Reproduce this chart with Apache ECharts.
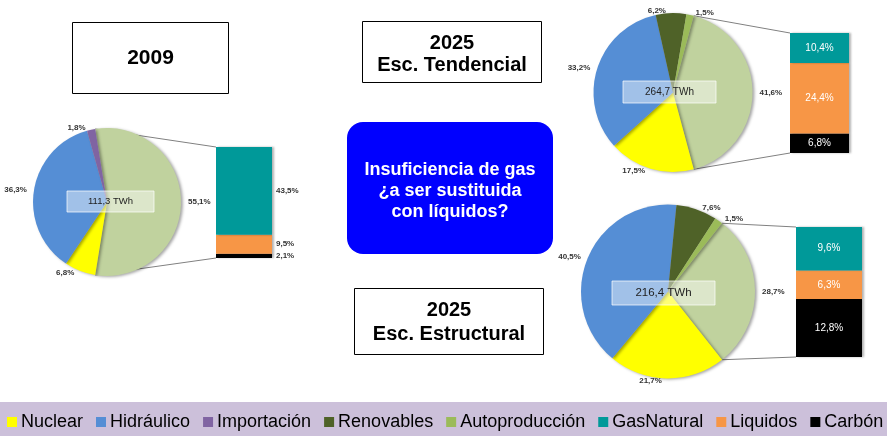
<!DOCTYPE html>
<html>
<head>
<meta charset="utf-8">
<script src="https://cdn.jsdelivr.net/npm/echarts@6/dist/echarts.min.js"></script>
<style>
  html, body { margin: 0; padding: 0; background: #fff; }
  #chart { width: 887px; height: 436px; }
</style>
</head>
<body>
<div id="chart"></div>
<script>
// Legend categories (order of the legend strip)
const categories = ['Nuclear', 'Hidráulico', 'Importación', 'Renovables', 'Autoproducción', 'GasNatural', 'Liquidos', 'Carbón'];
const thermalName = 'Térmica';

// One entry per scenario
const scenarios = ['2009', '2025 Esc. Tendencial', '2025 Esc. Estructural'];
const totalsTWh = [111.3, 264.7, 216.4];

// Pie shares (%) per scenario
const nuclear        = [6.8, 17.5, 21.7];
const hidraulico     = [36.3, 33.2, 40.5];
const importacion    = [1.8, 0, 0];
const renovables     = [0, 6.2, 7.6];
const autoproduccion = [0, 1.5, 1.5];

// Breakdown of the thermal slice (%), shown as the stacked column
const gasNatural = [43.5, 10.4, 9.6];
const liquidos   = [9.5, 24.4, 6.3];
const carbon     = [2.1, 6.8, 12.8];

const colors = {
  'Nuclear': '#FFFF00',
  'Hidráulico': '#558ED5',
  'Importación': '#8064A2',
  'Renovables': '#4F6228',
  'Autoproducción': '#9BBB59',
  'GasNatural': '#009999',
  'Liquidos': '#F79646',
  'Carbón': '#000000',
  'Térmica': '#C0D29E'
};

// Layout of each pie-of-column block
const blocks = [
  { center: [107, 202], r: 74, bar: { left: 216, top: 147, width: 56, height: 111 }, inside: false, box: { x: 67, y: 191, w: 87, h: 21, fs: 9.5 } },
  { center: [673, 92.5], r: 79.5, bar: { left: 790, top: 33, width: 59, height: 120 }, inside: true, box: { x: 623, y: 81, w: 93, h: 22, fs: 10 } },
  { center: [668, 291.5], r: 87, bar: { left: 796, top: 227, width: 66, height: 130 }, inside: true, box: { x: 612, y: 281, w: 103, h: 24, fs: 11.5 } }
];

const fmt = v => v.toFixed(1).replace('.', ',');

const grids = [], xAxes = [], yAxes = [], series = [], graphics = [];

// Legend strip background
graphics.push({ type: 'rect', shape: { x: 0, y: 402, width: 887, height: 34 }, style: { fill: '#CCC0DA' }, z: -10 });

blocks.forEach((b, i) => {
  const stack = [
    ['Carbón', carbon[i]],
    ['Liquidos', liquidos[i]],
    ['GasNatural', gasNatural[i]]
  ];
  const thermal = +(carbon[i] + liquidos[i] + gasNatural[i]).toFixed(1);
  const span = thermal * 3.6;

  const pieData = [
    [thermalName, thermal],
    ['Nuclear', nuclear[i]],
    ['Hidráulico', hidraulico[i]],
    ['Importación', importacion[i]],
    ['Renovables', renovables[i]],
    ['Autoproducción', autoproduccion[i]]
  ].filter(d => d[1] > 0).map(d => ({ name: d[0], value: d[1], itemStyle: { color: colors[d[0]] } }));

  series.push({
    type: 'pie',
    center: b.center,
    radius: b.r,
    startAngle: span / 2,
    clockwise: true,
    avoidLabelOverlap: true,
    data: pieData,
    itemStyle: { borderWidth: 0, shadowColor: 'rgba(0,0,0,0.35)', shadowBlur: 3, shadowOffsetX: 2, shadowOffsetY: 1 },
    label: { show: true, position: 'outside', overflow: 'none', edgeDistance: 0, formatter: p => fmt(p.value) + '%', fontSize: 8, fontWeight: 'bold', color: '#333', fontFamily: 'Liberation Sans' },
    labelLine: { show: false, length: 2, length2: 0 },
    emphasis: { disabled: true },
    z: 3
  });

  grids.push({ left: b.bar.left, top: b.bar.top, width: b.bar.width, height: b.bar.height });
  xAxes.push({ type: 'category', gridIndex: i, data: [scenarios[i]], show: false });
  yAxes.push({ type: 'value', gridIndex: i, min: 0, max: thermal, show: false });

  stack.forEach(([name, v]) => {
    series.push({
      type: 'bar',
      name: name,
      xAxisIndex: i,
      yAxisIndex: i,
      stack: 'thermal' + i,
      barWidth: '100%',
      data: [v],
      itemStyle: { color: colors[name], shadowColor: 'rgba(0,0,0,0.3)', shadowBlur: 2, shadowOffsetX: 2 },
      label: b.inside
        ? { show: true, position: 'inside', formatter: p => fmt(p.value) + '%', color: '#fff', fontSize: 10, fontFamily: 'Liberation Sans' }
        : { show: true, position: 'right', distance: 4, formatter: p => fmt(p.value) + '%', color: '#333', fontSize: 8, fontWeight: 'bold', fontFamily: 'Liberation Sans' },
      emphasis: { disabled: true }
    });
  });

  // Connector lines from the thermal slice edges to the column corners
  const edge = deg => {
    const a = deg * Math.PI / 180;
    return [b.center[0] + b.r * Math.sin(a), b.center[1] - b.r * Math.cos(a)];
  };
  const p1 = edge(90 - span / 2), p2 = edge(90 + span / 2);
  graphics.push({ type: 'line', shape: { x1: p1[0], y1: p1[1], x2: b.bar.left, y2: b.bar.top }, style: { stroke: '#808080', lineWidth: 1 }, z: 1 });
  graphics.push({ type: 'line', shape: { x1: p2[0], y1: p2[1], x2: b.bar.left, y2: b.bar.top + b.bar.height }, style: { stroke: '#808080', lineWidth: 1 }, z: 1 });

  // Total energy label over the pie
  graphics.push({ type: 'rect', shape: { x: b.box.x, y: b.box.y, width: b.box.w, height: b.box.h }, style: { fill: 'rgba(255,255,255,0.45)', stroke: 'rgba(255,255,255,0.7)', lineWidth: 1 }, z: 50 });
  graphics.push({ type: 'text', x: b.box.x + b.box.w / 2, y: b.box.y + b.box.h / 2, style: { text: fmt(totalsTWh[i]) + ' TWh', fill: '#222', font: b.box.fs + 'px "Liberation Sans"', align: 'center', verticalAlign: 'middle' }, z: 51 });
});

// Scenario title boxes
function titleBox(x, y, w, h, lines, fs, lh, dy) {
  graphics.push({ type: 'rect', shape: { x: x, y: y, width: w, height: h }, style: { fill: '#fff', stroke: '#000', lineWidth: 1 }, z: 5 });
  graphics.push({ type: 'text', x: x + w / 2, y: y + h / 2 + dy, style: { text: lines.join('\n'), fill: '#000', font: 'bold ' + fs + 'px "Liberation Sans"', align: 'center', verticalAlign: 'middle', lineHeight: lh }, z: 6 });
}
titleBox(72.5, 22.5, 156, 71, ['2009'], 21, 24, 0);
titleBox(362.5, 21.5, 179, 61, ['2025', 'Esc. Tendencial'], 20, 22, 2);
titleBox(354.5, 288.5, 189, 66, ['2025', 'Esc. Estructural'], 20, 24, 1);

// Central note
graphics.push({ type: 'rect', shape: { x: 347, y: 122, width: 206, height: 132, r: 16 }, style: { fill: '#0000FF' }, z: 5 });
graphics.push({ type: 'text', x: 450, y: 191, style: { text: 'Insuficiencia de gas\n¿a ser sustituida\ncon líquidos?', fill: '#fff', font: 'bold 18px "Liberation Sans"', align: 'center', verticalAlign: 'middle', lineHeight: 21 }, z: 6 });

const chart = echarts.init(document.getElementById('chart'), null, { renderer: 'canvas' });
chart.setOption({
  animation: false,
  grid: grids,
  xAxis: xAxes,
  yAxis: yAxes,
  series: series,
  graphic: graphics,
  legend: {
    data: categories.map(n => ({ name: n, icon: 'rect', itemStyle: { color: colors[n] } })),
    selectedMode: false,
    left: 7,
    top: 413,
    width: 880,
    padding: 0,
    itemWidth: 10,
    itemHeight: 10,
    itemGap: 13,
    textStyle: { fontFamily: 'Liberation Sans', fontSize: 18, color: '#000', padding: [0, 0, 0, -1] }
  }
});
</script>
</body>
</html>
